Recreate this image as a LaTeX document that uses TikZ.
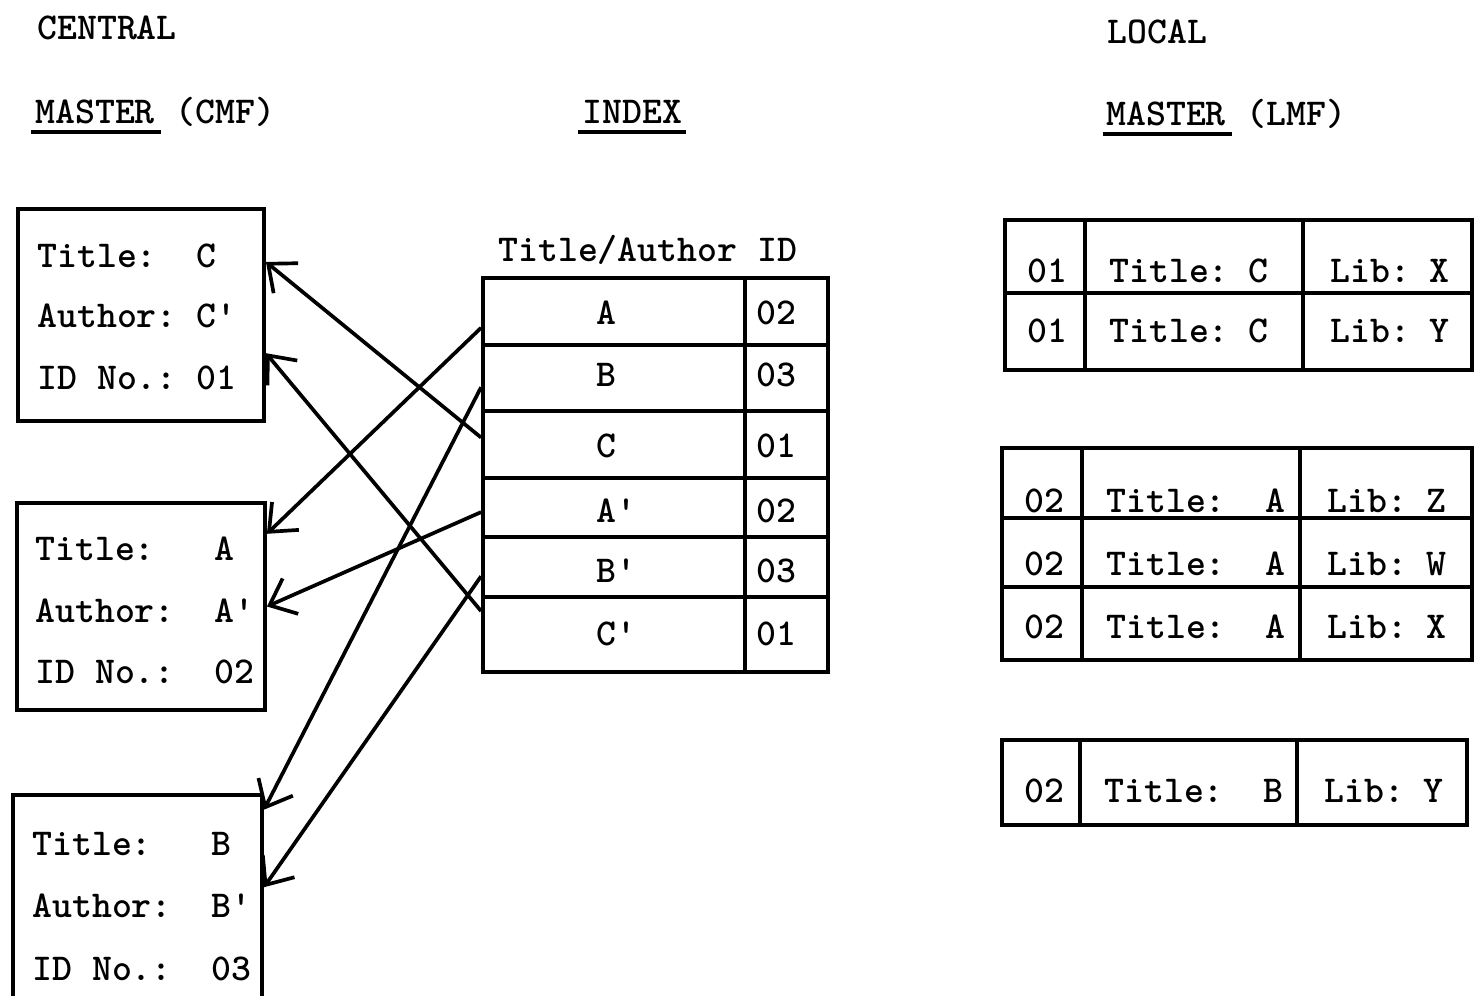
\documentclass[tikz,border=0pt]{standalone}
\usetikzlibrary{arrows.meta,fit,positioning}

\tikzset{
  txt/.style={anchor=base west, inner sep=0pt, font=\fontsize{21.6}{26}\selectfont\ttfamily\bfseries},
  box/.style={draw, line width=2.2pt, inner sep=0pt},
  ptr/.style={-{Straight Barb[length=13pt,width=22pt]}, line width=2.1pt},
  uline/.style={line width=2.2pt},
}

\begin{document}
\begin{tikzpicture}[x=0.02cm, y=-0.02cm]
  \useasboundingbox (0,0) rectangle (1480,996);
  \clip (0,0) rectangle (1480,996);

  % headings
  \node[txt] (cen) at (37,40) {CENTRAL};
  \node[txt] (mstC) at (35,124) {MASTER};
  \node[txt] (tagC) at (mstC.base east) {~(CMF)};
  \node[txt] (idx) at (582,124) {INDEX};
  \node[txt] (loc) at (1107,44) {LOCAL};
  \node[txt] (mstL) at (1106,126) {MASTER};
  \node[txt] (tagL) at (mstL.base east) {~(LMF)};
  \draw[uline] ([xshift=-2pt,yshift=-0.16cm]mstC.base west) -- ([xshift=3pt,yshift=-0.16cm]mstC.base east);
  \draw[uline] ([xshift=-2pt,yshift=-0.16cm]idx.base west) -- ([xshift=2pt,yshift=-0.16cm]idx.base east);
  \draw[uline] ([xshift=-2pt,yshift=-0.16cm]mstL.base west) -- ([xshift=3pt,yshift=-0.16cm]mstL.base east);

  % central master file records
  \node[box, fit={(18,209) (264,421)}] (cmfC) {};
  \node[txt] (cTitle) at (37,268) {Title:~~C};
  \node[txt] (cAuthor) at (37,328) {Author:~C'};
  \node[txt] (cId) at (37,390) {ID~No.:~01};

  \node[box, fit={(17,503) (265,710)}] (cmfA) {};
  \node[txt] (aTitle) at (35,560) {Title:~~~A};
  \node[txt] (aAuthor) at (35,622) {Author:~~A'};
  \node[txt] (aId) at (35,683) {ID~No.:~~02};

  \node[box, fit={(13,795) (262,1015)}] (cmfB) {};
  \node[txt] (bTitle) at (32,855) {Title:~~~B};
  \node[txt] (bAuthor) at (32,917) {Author:~~B'};
  \node[txt] (bId) at (32,980) {ID~No.:~~03};

  % index
  \node[txt] (idxHead) at (498,262) {Title/Author~ID};
  \foreach \n/\t/\b/\k/\id/\y in {A/278/345/A/02/325, B/345/411/B/03/387,
      C/411/478/C/01/458, Ap/478/537/A'/02/522, Bp/537/597/B'/03/582, Cp/597/672/C'/01/645} {
    \node[box, fit={(483,\t) (745,\b)}] (row\n) {};
    \node[box, fit={(745,\t) (828,\b)}] (id\n) {};
    \node[txt] (key\n) at (596,\y) {\k};
    \node[txt] (num\n) at (756,\y) {\id};
  }

  % local master file records
  \foreach \n/\l/\p/\q/\r/\t/\b/\y/\id/\ttl/\lib in {
      c1/1005/1085/1303/1472/220/293/283/01/Title:~C/Lib:~X,
      c2/1005/1085/1303/1472/293/370/343/01/Title:~C/Lib:~Y,
      a1/1002/1082/1300/1472/448/518/512/02/Title:~~A/Lib:~Z,
      a2/1002/1082/1300/1472/518/587/575/02/Title:~~A/Lib:~W,
      a3/1002/1082/1300/1472/587/660/638/02/Title:~~A/Lib:~X,
      b1/1002/1080/1297/1467/740/825/802/02/Title:~~B/Lib:~Y} {
    \node[box, fit={(\l,\t) (\p,\b)}] (lid\n) {};
    \node[box, fit={(\p,\t) (\q,\b)}] (ltl\n) {};
    \node[box, fit={(\q,\t) (\r,\b)}] (llb\n) {};
    \node[txt] (lidt\n) at (\l+22,\y) {\id};
    \node[txt] (ltlt\n) at (\p+24,\y) {\ttl};
    \node[txt] (llbt\n) at (\q+27,\y) {\lib};
  }

  % pointers from index to central master
  \draw[ptr] (rowA.187) -- (cmfA.30);
  \draw[ptr] (rowB.184) -- (cmfB.37);
  \draw[ptr] (rowC.177) -- (cmfC.23);
  \draw[ptr] (rowAp.182) -- (cmfA.east);
  \draw[ptr] (rowBp.184) -- (cmfB.8);
  \draw[ptr] (rowCp.170) -- (cmfC.343);
\end{tikzpicture}
\end{document}
